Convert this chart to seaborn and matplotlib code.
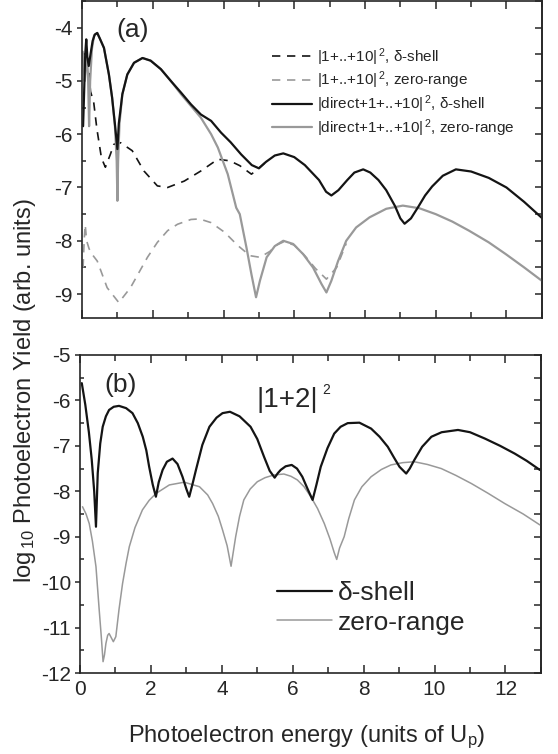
import matplotlib
matplotlib.use("Agg")
import matplotlib.pyplot as plt
from matplotlib.ticker import MultipleLocator, NullFormatter
import seaborn as sns

# ---- panel (a): |1+..+10|^2 and |direct+1+..+10|^2 ----
a_dash_shell_x = [0.2, 0.24, 0.33, 0.42, 0.55, 0.66, 0.8, 0.9, 1.09, 1.42, 1.75, 2.13, 2.42,
                  2.89, 3.36, 3.84, 4.18, 4.46, 4.79, 5.0, 5.2]
a_dash_shell_y = [-4.85, -5.2, -5.4, -5.9, -6.45, -6.62, -6.38, -6.19, -6.16, -6.31, -6.69, -6.97, -7.0,
                  -6.88, -6.69, -6.47, -6.5, -6.59, -6.75, -6.64, -6.52]

a_dash_zero_x = [0.03, 0.06, 0.09, 0.13, 0.2, 0.28, 0.43, 0.71, 1.04, 1.37, 1.85, 2.13, 2.42, 2.7,
                 3.08, 3.32, 3.65, 4.03, 4.36, 4.46, 4.75, 5.03, 5.31, 5.5, 5.7, 6.0, 6.3, 6.6,
                 6.91, 7.2, 7.47]
a_dash_zero_y = [-8.5, -8.0, -7.7, -8.0, -8.15, -8.25, -8.38, -8.88, -9.16, -8.88, -8.31, -8.03, -7.81, -7.69,
                 -7.6, -7.59, -7.66, -7.84, -8.06, -8.12, -8.28, -8.31, -8.2, -8.08, -8.02, -8.08, -8.28, -8.52,
                 -8.72, -8.5, -8.05]

a_full_shell_x = [0.03, 0.06, 0.09, 0.12, 0.15, 0.19, 0.24, 0.3, 0.36, 0.43, 0.5, 0.62, 0.76, 0.85,
                  0.93, 1.0, 1.04, 1.14, 1.28, 1.47, 1.71, 1.94, 2.23, 2.51, 2.8, 3.08, 3.36, 3.65,
                  3.93, 4.2, 4.5, 4.8, 5.0, 5.2, 5.45, 5.69, 6.0, 6.3, 6.5, 6.7, 6.9, 7.05, 7.25,
                  7.5, 7.7, 7.95, 8.15, 8.38, 8.6, 8.85, 9.0, 9.12, 9.3, 9.5, 9.7, 9.9, 10.2, 10.57,
                  11.0, 11.5, 12.0, 12.5, 13.0]
a_full_shell_y = [-5.85, -5.2, -4.5, -4.22, -4.55, -4.72, -4.5, -4.25, -4.13, -4.1, -4.2, -4.38, -4.88, -5.31,
                  -5.81, -6.28, -5.8, -5.25, -4.88, -4.66, -4.57, -4.62, -4.78, -5.0, -5.22, -5.44, -5.63, -5.75,
                  -5.97, -6.15, -6.38, -6.58, -6.64, -6.52, -6.4, -6.36, -6.43, -6.58, -6.72, -6.86, -7.08, -7.15, -7.05,
                  -6.86, -6.72, -6.66, -6.72, -6.86, -7.05, -7.35, -7.58, -7.68, -7.58, -7.37, -7.15, -6.98, -6.78, -6.66,
                  -6.7, -6.82, -7.0, -7.27, -7.57]

a_full_zero_x = [0.02, 0.05, 0.08, 0.11, 0.14, 0.17, 0.2, 0.23, 0.28, 0.34, 0.43, 0.5, 0.62, 0.76,
                 0.85, 0.93, 0.98, 1.0, 1.02, 1.06, 1.14, 1.28, 1.47, 1.71, 1.94, 2.23, 2.51, 2.8,
                 3.08, 3.36, 3.65, 3.84, 4.12, 4.36, 4.46, 4.65, 4.79, 4.92, 5.03, 5.22, 5.45, 5.69,
                 5.97, 6.25, 6.53, 6.77, 6.91, 7.05, 7.24, 7.47, 7.75, 8.13, 8.6, 9.07, 9.54, 10.0,
                 10.47, 10.94, 11.5, 11.98, 12.5, 13.0]
a_full_zero_y = [-4.45, -4.75, -5.0, -4.7, -4.55, -4.9, -5.85, -5.0, -4.4, -4.15, -4.1, -4.2, -4.38, -4.88,
                 -5.31, -5.85, -6.5, -7.25, -6.5, -5.8, -5.25, -4.88, -4.66, -4.57, -4.62, -4.78, -5.0, -5.25,
                 -5.47, -5.69, -6.0, -6.25, -6.75, -7.38, -7.5, -8.13, -8.63, -9.06, -8.75, -8.31, -8.1, -8.0,
                 -8.06, -8.25, -8.5, -8.81, -8.97, -8.75, -8.38, -8.0, -7.75, -7.56, -7.4, -7.34, -7.39, -7.5,
                 -7.64, -7.81, -8.03, -8.25, -8.5, -8.75]

# ---- panel (b): |1+2|^2 ----
b_shell_x = [0.05, 0.15, 0.25, 0.33, 0.4, 0.45, 0.5, 0.57, 0.64, 0.73, 0.82, 0.95, 1.1, 1.3, 1.48,
             1.63, 1.77, 1.87, 1.95, 2.05, 2.14, 2.22, 2.33, 2.45, 2.61, 2.75, 2.89, 3.0, 3.08, 3.17,
             3.27, 3.45, 3.65, 3.85, 4.02, 4.23, 4.5, 4.81, 5.0, 5.19, 5.35, 5.49, 5.58, 5.66, 5.8,
             5.97, 6.12, 6.27, 6.42, 6.56, 6.67, 6.79, 6.98, 7.17, 7.35, 7.55, 7.88, 8.21, 8.45, 8.68,
             8.85, 9.01, 9.2, 9.3, 9.43, 9.65, 9.91, 10.2, 10.66, 11.0, 11.42, 11.85, 12.26, 12.6, 12.97]
b_shell_y = [-5.62, -6.1, -6.7, -7.3, -8.0, -8.78, -7.6, -6.95, -6.58, -6.35, -6.21, -6.14, -6.12, -6.17, -6.28,
             -6.5, -6.8, -7.1, -7.46, -7.85, -8.12, -7.8, -7.53, -7.35, -7.28, -7.4, -7.68, -7.95, -8.12, -7.85,
             -7.53, -6.98, -6.58, -6.38, -6.28, -6.25, -6.35, -6.58, -6.85, -7.24, -7.55, -7.7, -7.6, -7.53, -7.45,
             -7.42, -7.5, -7.68, -7.95, -8.19, -7.85, -7.46, -7.05, -6.73, -6.58, -6.5, -6.49, -6.62, -6.8, -7.02,
             -7.25, -7.46, -7.61, -7.5, -7.31, -7.02, -6.8, -6.7, -6.65, -6.7, -6.84, -7.0, -7.17, -7.33, -7.53]

b_zero_x = [0.07, 0.17, 0.26, 0.35, 0.45, 0.54, 0.6, 0.65, 0.69, 0.73, 0.78, 0.82, 0.88, 0.94, 1.01,
            1.1, 1.2, 1.3, 1.39, 1.55, 1.76, 1.95, 2.14, 2.52, 2.94, 3.37, 3.6, 3.74, 3.9, 4.02,
            4.15, 4.26, 4.33, 4.39, 4.5, 4.62, 4.8, 5.0, 5.22, 5.47, 5.75, 5.95, 6.13, 6.32, 6.51,
            6.7, 6.89, 7.05, 7.17, 7.24, 7.32, 7.45, 7.58, 7.74, 7.95, 8.21, 8.5, 8.77, 9.1, 9.43,
            9.8, 10.19, 10.6, 11.04, 11.5, 11.98, 12.5, 12.97]
b_zero_y = [-8.34, -8.5, -8.71, -9.1, -9.66, -10.6, -11.2, -11.75, -11.6, -11.35, -11.17, -11.13, -11.22, -11.31, -11.2,
            -10.6, -10.03, -9.58, -9.22, -8.8, -8.41, -8.2, -8.05, -7.86, -7.8, -7.9, -8.08, -8.27, -8.55, -8.85,
            -9.2, -9.65, -9.3, -9.0, -8.55, -8.19, -7.95, -7.79, -7.7, -7.64, -7.62, -7.67, -7.75, -7.9, -8.12,
            -8.38, -8.71, -9.05, -9.35, -9.5, -9.25, -9.0, -8.6, -8.19, -7.9, -7.68, -7.52, -7.42, -7.37, -7.35,
            -7.41, -7.5, -7.65, -7.83, -8.04, -8.27, -8.5, -8.74]

a_labels = ["|1+..+10|$^{\\,2}$, δ-shell", "|1+..+10|$^{\\,2}$, zero-range",
            "|direct+1+..+10|$^{\\,2}$, δ-shell", "|direct+1+..+10|$^{\\,2}$, zero-range"]
b_labels = ["δ-shell", "zero-range"]

BLACK = "#141414"
GRAY = "#999999"

sns.set_style("ticks")
plt.rcParams["font.family"] = ["Liberation Sans", "DejaVu Sans"]
plt.rcParams["mathtext.fontset"] = "custom"
plt.rcParams["mathtext.rm"] = "Liberation Sans"
plt.rcParams["mathtext.it"] = "Liberation Sans:italic"
plt.rcParams["axes.unicode_minus"] = False
plt.rcParams["axes.linewidth"] = 1.2

fig = plt.figure(figsize=(5.58, 7.54), dpi=100)
ax_a = fig.add_axes([0.147, 0.5782, 0.824, 0.4205])
ax_b = fig.add_axes([0.1434, 0.1074, 0.826, 0.4218])


def draw(ax, xs, ys, color, lw, ls="-", label=None):
    sns.lineplot(x=xs, y=ys, ax=ax, color=color, lw=lw, linestyle=ls,
                 sort=False, estimator=None, label=label, legend=False)


def style_axes(ax, ylo, yhi, show_x):
    ax.set_xlim(0, 13)
    ax.set_ylim(ylo, yhi)
    ax.xaxis.set_major_locator(MultipleLocator(2))
    ax.xaxis.set_minor_locator(MultipleLocator(1))
    ax.yaxis.set_major_locator(MultipleLocator(1))
    ax.yaxis.set_minor_locator(MultipleLocator(0.5))
    ax.tick_params(axis="x", which="both", direction="in", top=True, bottom=True,
                   labelsize=15, pad=5, width=1.1, labelbottom=show_x)
    ax.tick_params(axis="x", which="major", length=6)
    ax.tick_params(axis="x", which="minor", length=4)
    ax.tick_params(axis="y", which="major", direction="out", length=3.5, width=1.1,
                   labelsize=15, pad=3, right=False)
    ax.tick_params(axis="y", which="minor", direction="in", length=3, width=1.1, right=False)
    sec = ax.secondary_yaxis("right")
    sec.yaxis.set_major_locator(MultipleLocator(1))
    sec.yaxis.set_minor_locator(MultipleLocator(0.5))
    sec.yaxis.set_major_formatter(NullFormatter())
    sec.tick_params(which="both", direction="in", length=5, width=1.1)
    ax.set_xlabel("")
    ax.set_ylabel("")
    for s in ax.spines.values():
        s.set_visible(True)


# panel (a)
draw(ax_a, a_dash_shell_x, a_dash_shell_y, BLACK, 1.2, (0, (5, 4)), a_labels[0])
draw(ax_a, a_dash_zero_x, a_dash_zero_y, GRAY, 1.2, (0, (5, 4)), a_labels[1])
draw(ax_a, a_full_zero_x, a_full_zero_y, GRAY, 1.6, "-", None)
draw(ax_a, a_full_shell_x, a_full_shell_y, BLACK, 1.6, "-", a_labels[2])
style_axes(ax_a, -9.45, -3.5, False)
h, l = ax_a.get_legend_handles_labels()
gray_handle = plt.Line2D([], [], color=GRAY, lw=1.6)
ax_a.legend([h[0], h[1], h[2], gray_handle], a_labels, loc="upper left",
            bbox_to_anchor=(0.413, 0.858), frameon=False, fontsize=11,
            handlelength=2.6, handletextpad=0.35, labelspacing=0.14,
            borderpad=0, borderaxespad=0)
ax_a.text(0.109, 0.91, "(a)", transform=ax_a.transAxes, fontsize=19,
          ha="center", va="center")

# panel (b)
draw(ax_b, b_zero_x, b_zero_y, GRAY, 1.1, "-", b_labels[1])
draw(ax_b, b_shell_x, b_shell_y, BLACK, 1.6, "-", b_labels[0])
style_axes(ax_b, -12, -5, True)
hb, lb = ax_b.get_legend_handles_labels()
ax_b.legend([hb[1], hb[0]], b_labels, loc="upper left", bbox_to_anchor=(0.427, 0.29),
            frameon=False, fontsize=19, handlelength=2.1, handletextpad=0.2,
            labelspacing=0.22, borderpad=0, borderaxespad=0)
ax_b.text(0.087, 0.907, "(b)", transform=ax_b.transAxes, fontsize=19,
          ha="center", va="center")
ax_b.text(0.383, 0.86, "|1+2|", transform=ax_b.transAxes, fontsize=20,
          ha="left", va="center")
ax_b.text(0.525, 0.89, "2", transform=ax_b.transAxes, fontsize=10,
          ha="left", va="center")

fig.text(0.549, 0.022, "Photoelectron energy (units of U$_{\\mathrm{p}}$)",
         ha="center", va="center", fontsize=17)
fig.text(0.045, 0.482, "log$_{\\,10}$ Photoelectron Yield (arb. units)",
         ha="center", va="center", rotation=90, fontsize=17)

fig.savefig("out.png", dpi=100)
